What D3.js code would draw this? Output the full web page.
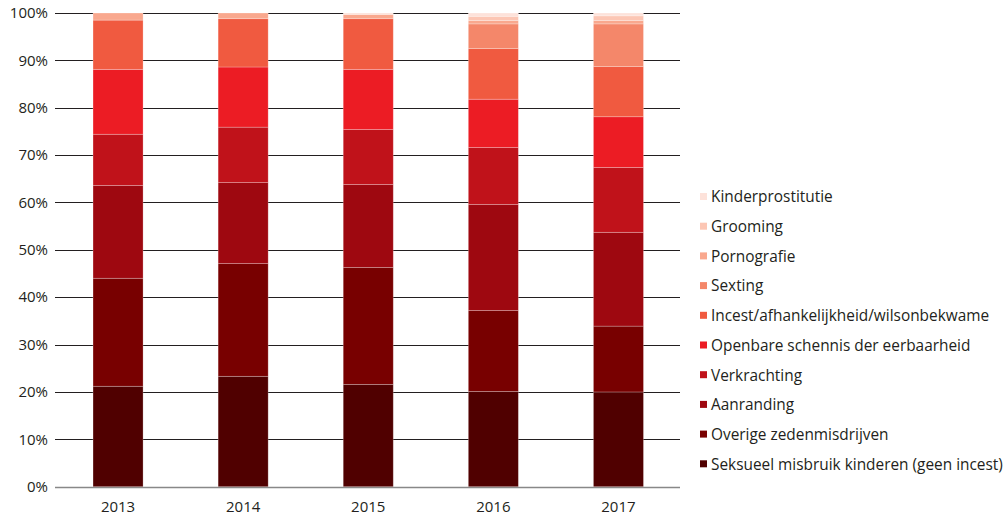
<!DOCTYPE html>
<html><head><meta charset="utf-8">
<script src="https://cdn.jsdelivr.net/npm/d3@7"></script>
<style>
body{margin:0;background:#fff;}
text{font-family:"Open Sans",sans-serif;fill:#231f20;}
</style></head>
<body><svg id="c" width="1008" height="517"></svg>
<script>
const years = ["2013","2014","2015","2016","2017"];
const seriesNames = ["Seksueel misbruik kinderen (geen incest)","Overige zedenmisdrijven","Aanranding","Verkrachting","Openbare schennis der eerbaarheid","Incest/afhankelijkheid/wilsonbekwame","Sexting","Pornografie","Grooming","Kinderprostitutie"];
const seksueel     = [21.2, 23.3, 21.6, 20.1, 20.0];
const overige      = [22.8, 23.8, 24.7, 17.1, 13.9];
const aanranding   = [19.6, 17.1, 17.5, 22.4, 19.8];
const verkrachting = [10.8, 11.7, 11.6, 12.0, 13.7];
const openbare     = [13.7, 12.7, 12.7, 10.2, 10.7];
const incest       = [10.4, 10.2, 10.7, 10.7, 10.6];
const sexting      = [0, 0, 0, 5.2, 9.0];
const pornografie  = [1.5, 1.2, 0.9, 0.7, 0.7];
const grooming     = [0, 0, 0, 0.9, 1.0];
const kinder       = [0, 0, 0.3, 0.7, 0.6];
const yTicks = [0,10,20,30,40,50,60,70,80,90,100];
const colors = ["#500000","#780000","#9e0810","#c0121a","#ec1c24","#f05a40","#f4876a","#f9a88e","#fcc6b4","#fde2da"];

const seriesValues = [seksueel, overige, aanranding, verkrachting, openbare, incest, sexting, pornografie, grooming, kinder];
const table = years.map((y,i)=>{const o={year:y}; seriesNames.forEach((n,k)=>o[n]=seriesValues[k][i]); return o;});
const stacked = d3.stack().keys(seriesNames)(table);

const svg = d3.select("#c");
const x = d3.scaleBand().domain(years).range([55.5,681]).paddingInner(0.6).paddingOuter(0.3);
const y = d3.scaleLinear().domain([0,100]).range([486.7,13]);
const color = d3.scaleOrdinal().domain(seriesNames).range(colors);

// gridlines
svg.append("g").selectAll("line").data(yTicks).join("line")
  .attr("x1",55).attr("x2",680)
  .attr("y1",d=>Math.round(y(d))+0.5).attr("y2",d=>Math.round(y(d))+0.5)
  .attr("stroke",d=>d===0?"#888":"#231f20").attr("stroke-width",d=>d===0?1.6:1);

// y labels
svg.append("g").selectAll("text").data(yTicks).join("text")
  .attr("x",48).attr("y",d=>y(d)).attr("dy","0.35em").attr("text-anchor","end")
  .style("font-size","15px").text(d=>d+"%");

// bars
svg.append("g").selectAll("g").data(stacked).join("g")
  .attr("fill",d=>color(d.key))
  .selectAll("rect").data(d=>d).join("rect")
  .attr("x",d=>x(d.data.year)).attr("width",x.bandwidth())
  .attr("y",d=>y(d[1])).attr("height",d=>Math.max(0,y(d[0])-y(d[1])))
  .attr("stroke","rgba(255,255,255,0.3)").attr("stroke-width",0.8);

// x labels
svg.append("g").selectAll("text").data(years).join("text")
  .attr("x",d=>x(d)+x.bandwidth()/2).attr("y",507).attr("dy","0.35em")
  .attr("text-anchor","middle").style("font-size","15px").text(d=>d);

// legend (top to bottom: reverse of stack)
const legendItems = seriesNames.slice().reverse();
const lg = svg.append("g").selectAll("g").data(legendItems).join("g")
  .attr("transform",(d,i)=>`translate(700,${197+i*29.7})`);
lg.append("rect").attr("x",0).attr("y",-4).attr("width",7).attr("height",7).attr("fill",d=>color(d));
lg.append("text").attr("x",11).attr("y",0).attr("dy","0.35em").style("font-size","15.4px").text(d=>d);
</script></body></html>
